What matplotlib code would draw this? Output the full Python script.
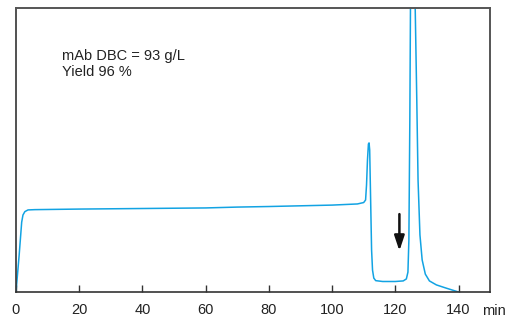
import matplotlib.pyplot as plt

plt.rcParams['font.family'] = ['Liberation Sans', 'DejaVu Sans']

# chromatogram trace (time in min, signal in % of full scale)
t = [0, 1.0, 1.8, 2.2, 2.8, 3.8, 6, 20, 40, 60, 70, 80, 100, 108, 110, 110.6,
     110.9, 111.2, 111.5, 111.7, 111.9, 112.2, 112.5, 112.8, 113.2, 113.8,
     116, 120, 122.5, 123.5, 124.0, 124.3, 124.6, 124.8, 125.5, 126.3, 126.8,
     127.2, 127.8, 128.5, 129.5, 130.8, 133, 136, 140]
sig = [0, 13.0, 24.6, 27.1, 28.3, 28.9, 29.0, 29.2, 29.4, 29.6, 29.9, 30.1,
       30.6, 31.0, 31.5, 32.4, 37.7, 46.5, 52.1, 52.5, 50.0, 32.4, 14.8, 7.7,
       4.9, 4.0, 3.7, 3.7, 3.9, 4.6, 7.0, 18.3, 60.6, 100, 124, 100, 67.6,
       39.4, 20.1, 11.3, 6.3, 3.9, 2.5, 1.4, 0]

xticks = [0, 20, 40, 60, 80, 100, 120, 140]
arrow_x = 121.3
arrow_from = 28.4
arrow_to = 13.5
note = "mAb DBC = 93 g/L\nYield 96 %"

fig = plt.figure(figsize=(5.12, 3.2), dpi=100)
ax = fig.add_axes([0.03125, 0.0875, 0.926, 0.8875])

ax.plot(t, sig, color='#12A3E3', lw=1.1, solid_joinstyle='round')

ax.annotate('', xy=(arrow_x, arrow_to), xytext=(arrow_x, arrow_from),
            arrowprops=dict(arrowstyle='-|>,head_width=0.3,head_length=0.9',
                            color='#111111', lw=1.8))

ax.text(0.097, 0.855, note, transform=ax.transAxes, fontsize=10.5, va='top',
        ha='left', linespacing=1.2, color='#222222')

ax.set_xlim(0, 150)
ax.set_ylim(0, 100)
ax.set_xticks(xticks)
ax.set_yticks([])
ax.tick_params(axis='x', direction='in', length=5, width=1, color='#333333',
               labelsize=10.5, pad=8, labelcolor='#222222')
for s in ['left', 'bottom']:
    ax.spines[s].set_color('#333333')
    ax.spines[s].set_linewidth(1.2)
for s in ['top', 'right']:
    ax.spines[s].set_color('#555555')
    ax.spines[s].set_linewidth(1.4)

ax.text(0.982, -0.08, 'min', transform=ax.transAxes, fontsize=10.5,
        ha='left', va='baseline', color='#222222')

fig.savefig('out.png', dpi=100)
